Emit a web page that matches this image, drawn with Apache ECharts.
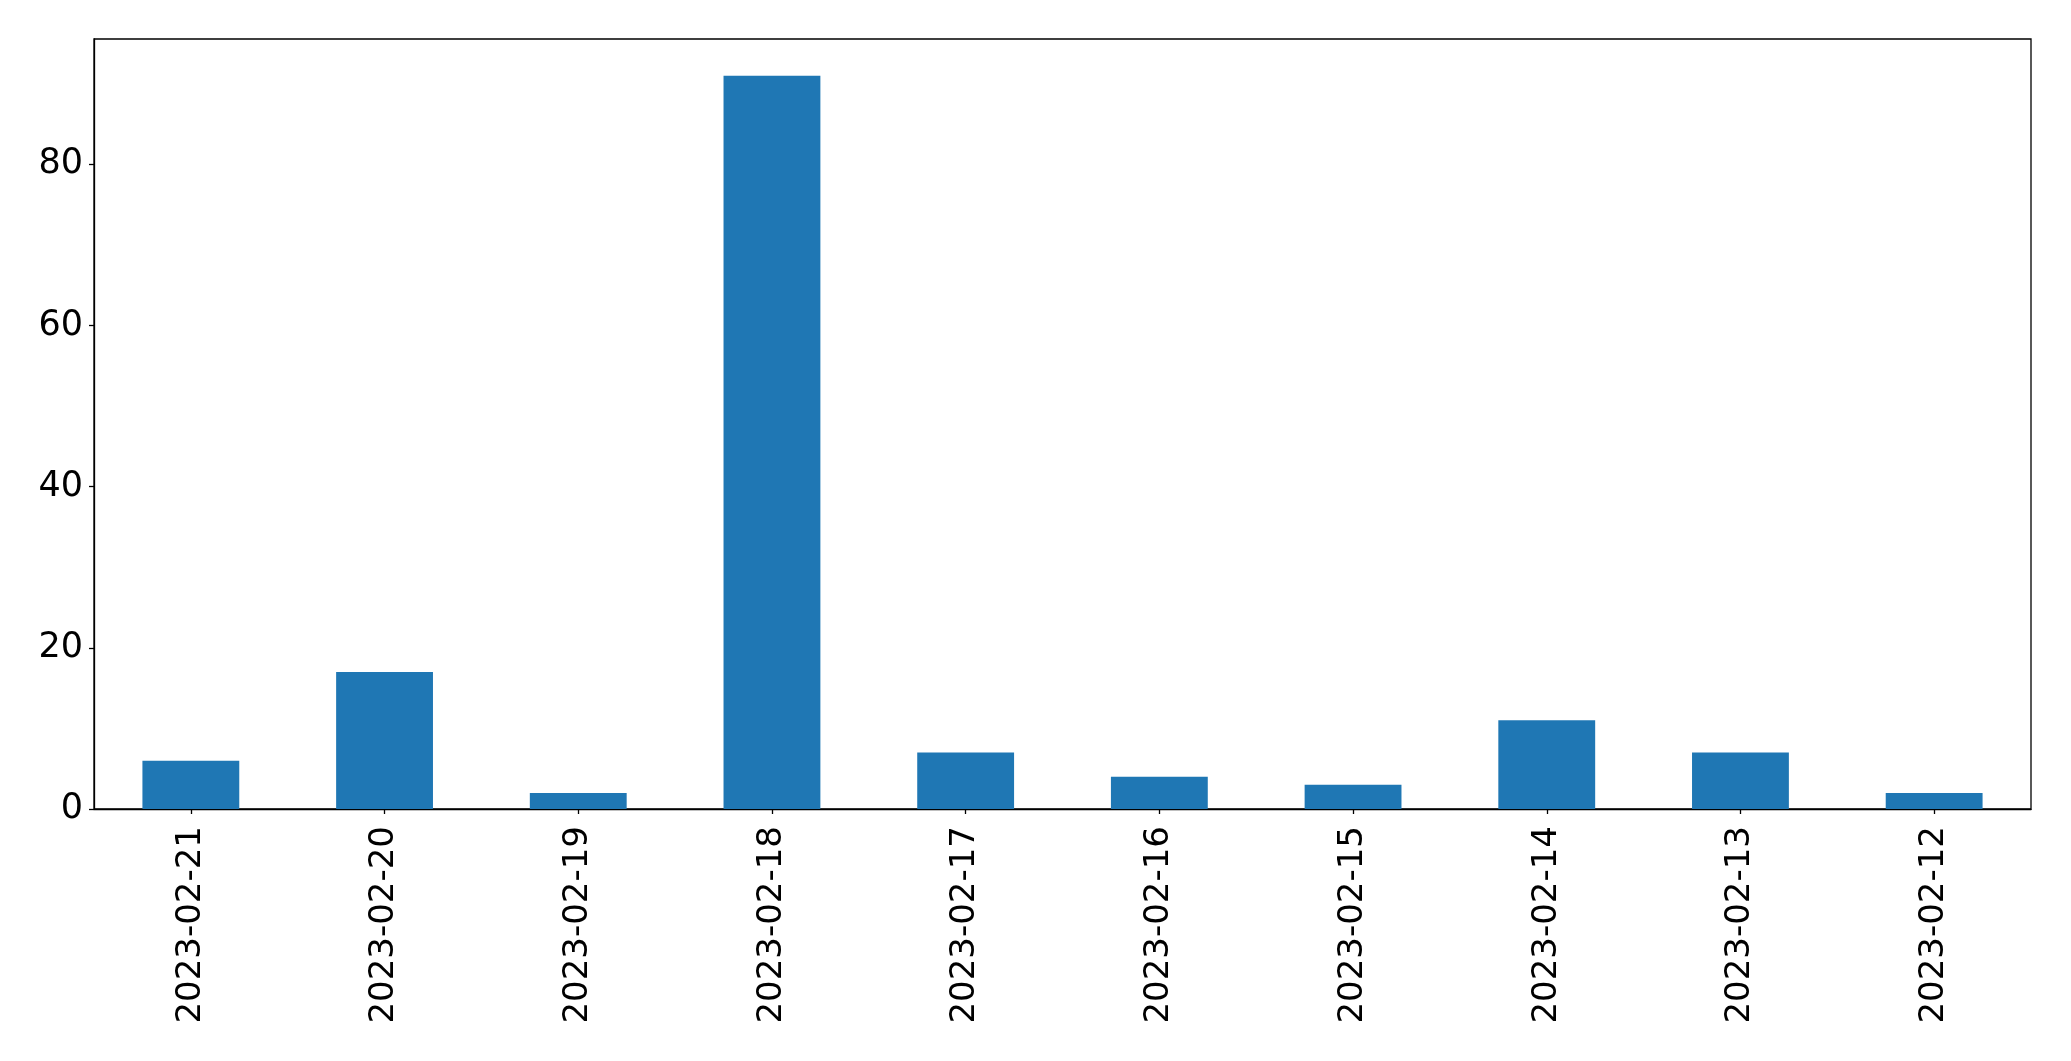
<!DOCTYPE html>
<html>
<head>
<meta charset="utf-8">
<script src="https://cdn.jsdelivr.net/npm/echarts@6/dist/echarts.min.js"></script>
<style>
html,body{margin:0;padding:0;background:#fff;}
#chart{width:2071px;height:1061px;}
</style>
</head>
<body>
<div id="chart"></div>
<script>
const categories = ['2023-02-21','2023-02-20','2023-02-19','2023-02-18','2023-02-17','2023-02-16','2023-02-15','2023-02-14','2023-02-13','2023-02-12'];
const values = [6, 17, 2, 91, 7, 4, 3, 11, 7, 2];
const yTicks = [0, 20, 40, 60, 80];

const chart = echarts.init(document.getElementById('chart'), null, {renderer: 'canvas'});
const font = 'DejaVu Sans';
chart.setOption({
  animation: false,
  backgroundColor: '#ffffff',
  grid: {left: 94, right: 40, top: 39, bottom: 252, show: true, borderColor: '#000', borderWidth: 1.3, backgroundColor: 'transparent'},
  xAxis: {
    type: 'category',
    data: categories,
    axisLine: {show: true, lineStyle: {color: '#000', width: 1.3}},
    axisTick: {show: true, alignWithLabel: true, length: 5, lineStyle: {color: '#000', width: 1.3}},
    axisLabel: {rotate: 90, margin: 17, color: '#000', fontSize: 34, fontFamily: font},
    splitLine: {show: false}
  },
  yAxis: {
    type: 'value',
    min: 0,
    max: Math.max(...values) * 1.05,
    interval: 20,
    axisLine: {show: true, lineStyle: {color: '#000', width: 1.3}},
    axisTick: {show: true, length: 5, lineStyle: {color: '#000', width: 1.3}},
    axisLabel: {margin: 11, color: '#000', fontSize: 35, fontFamily: font, showMaxLabel: false,
      padding: [5, 0, 0, 0],
      formatter: v => yTicks.includes(v) ? String(v) : ''},
    splitLine: {show: false}
  },
  series: [{
    type: 'bar',
    data: values,
    barWidth: '50%',
    itemStyle: {color: '#1f77b4'}
  }]
});
</script>
</body>
</html>
